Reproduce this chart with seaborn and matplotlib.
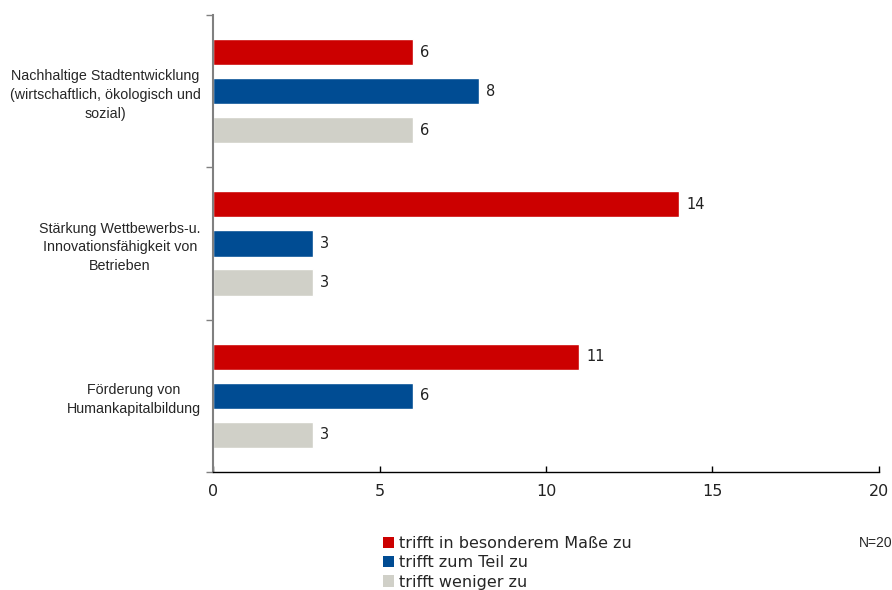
import matplotlib
matplotlib.use("Agg")
import matplotlib.pyplot as plt
import seaborn as sns
import pandas as pd
from matplotlib.ticker import FixedLocator
from matplotlib.patches import Patch

# Survey items (categories) and answer counts per response level
categories = [
    "Nachhaltige Stadtentwicklung\n(wirtschaftlich, ökologisch und\nsozial)",
    "Stärkung Wettbewerbs-u.\nInnovationsfähigkeit von\nBetrieben",
    "Förderung von\nHumankapitalbildung",
]
levels = ["trifft in besonderem Maße zu", "trifft zum Teil zu", "trifft weniger zu"]
besonders = [6, 14, 11]
teilweise = [8, 3, 6]
weniger = [6, 3, 3]
x_ticks = [0, 5, 10, 15, 20]
n_note = "N=20"

colors = ["#CC0000", "#004C93", "#D0D0C8"]

rows = []
for series, level in zip([besonders, teilweise, weniger], levels):
    for cat, v in zip(categories, series):
        rows.append({"Kategorie": cat, "Antwort": level, "Anzahl": v})
df = pd.DataFrame(rows)

sns.set_theme(style="white")
plt.rcParams["font.family"] = ["DejaVu Sans"]

fig = plt.figure(figsize=(8.92, 5.90), dpi=100)
ax = fig.add_axes([0.2388, 0.2, 0.7466, 0.7746])

sns.barplot(
    data=df, y="Kategorie", x="Anzahl", hue="Antwort",
    order=categories, hue_order=levels, palette=colors,
    orient="h", width=0.77, gap=0.33, saturation=1, legend=False, ax=ax,
)

for cont in ax.containers:
    ax.bar_label(cont, padding=5, fontsize=10.5, color="#222222")

ax.set_xlim(0, 20)
ax.set_ylim(2.5, -0.5)
ax.set_xticks(x_ticks)
ax.set_xticklabels([str(t) for t in x_ticks], fontsize=11.5, color="#222222")
ax.set_xlabel("")
ax.set_ylabel("")

# Category labels at group centres, tick marks at group boundaries
ax.set_yticks(range(len(categories)))
ax.set_yticklabels(categories, fontsize=10.3, family="Liberation Sans",
                   multialignment="center", linespacing=1.45)
ax.yaxis.set_minor_locator(FixedLocator([-0.5, 0.5, 1.5, 2.5]))
ax.tick_params(axis="y", which="major", length=0, pad=9)
ax.tick_params(axis="y", which="minor", length=5, width=1, color="#808080", direction="out", left=True)
ax.tick_params(axis="x", which="major", length=4, width=1, color="black", direction="in", bottom=True, pad=9)

for s in ["top", "right"]:
    ax.spines[s].set_visible(False)
ax.spines["left"].set_color("#808080")
ax.spines["left"].set_linewidth(1.5)
ax.spines["bottom"].set_color("black")
ax.spines["bottom"].set_linewidth(1)

# Legend below the plot
handles = [Patch(facecolor=c, edgecolor="none") for c in colors]
fig.legend(handles, levels, loc="upper left", bbox_to_anchor=(383 / 892, 1 - 536 / 590),
           frameon=False, fontsize=11.5, handlelength=0.7, handleheight=0.7,
           handletextpad=0.3, labelspacing=0.27, borderpad=0, borderaxespad=0)

fig.text(1.0, 1 - 543 / 590, n_note, ha="right", va="center", fontsize=10,
         family="Liberation Sans")

fig.savefig("out.png", dpi=100)
